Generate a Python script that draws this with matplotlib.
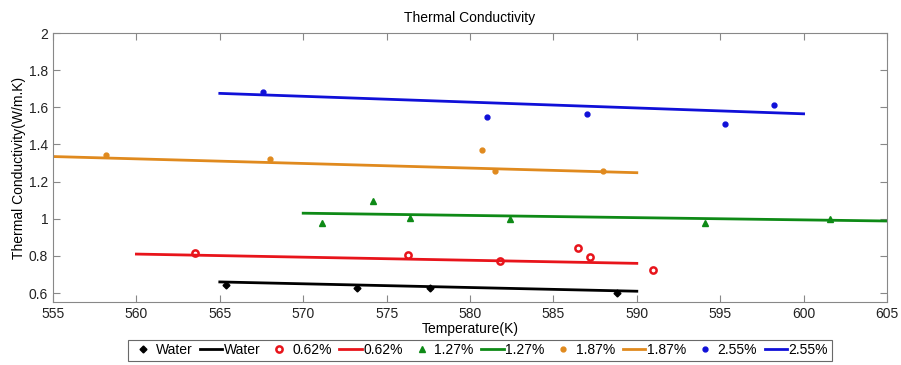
import matplotlib.pyplot as plt
import numpy as np

plt.rcParams['font.family'] = ['Liberation Sans', 'DejaVu Sans']

# ------------------------------------------------------------------
# data
# ------------------------------------------------------------------
water_T = [565.4, 573.2, 577.6, 588.8]
water_k = [0.645, 0.630, 0.630, 0.600]
water_fitT = [565, 590]
water_fitk = [0.660, 0.610]

c062_T = [563.5, 576.3, 581.8, 586.5, 587.2, 591.0]
c062_k = [0.815, 0.805, 0.775, 0.845, 0.795, 0.725]
c062_fitT = [560, 590]
c062_fitk = [0.810, 0.760]

c127_T = [571.1, 574.2, 576.4, 582.4, 594.1, 601.6]
c127_k = [0.975, 1.095, 1.005, 1.000, 0.975, 1.000]
c127_fitT = [570, 605]
c127_fitk = [1.030, 0.988]

c187_T = [558.2, 568.0, 580.7, 581.5, 588.0]
c187_k = [1.345, 1.320, 1.370, 1.255, 1.255]
c187_fitT = [555, 590]
c187_fitk = [1.335, 1.248]

c255_T = [567.6, 581.0, 587.0, 595.3, 598.2]
c255_k = [1.680, 1.550, 1.565, 1.510, 1.615]
c255_fitT = [565, 600]
c255_fitk = [1.675, 1.565]

labels = ['Water', '0.62%', '1.27%', '1.87%', '2.55%']
colors = ['black', '#e8141b', '#0e8a16', '#e08a1e', '#1010d8']

fig = plt.figure(figsize=(9.01, 3.65), dpi=100)
ax = fig.add_axes([53 / 901, 1 - 302 / 365, (887 - 53) / 901, (302 - 33) / 365])

ax.plot(water_T, water_k, 'D', ms=3.5, color=colors[0], label=labels[0])
ax.plot(water_fitT, water_fitk, '-', lw=2.0, color=colors[0], label=labels[0])
ax.plot(c062_T, c062_k, 'o', ms=4.5, mfc='white', mew=1.8, color=colors[1], label=labels[1])
ax.plot(c062_fitT, c062_fitk, '-', lw=2.0, color=colors[1], label=labels[1])
ax.plot(c127_T, c127_k, '^', ms=5, color=colors[2], label=labels[2])
ax.plot(c127_fitT, c127_fitk, '-', lw=2.0, color=colors[2], label=labels[2])
ax.plot(c187_T, c187_k, 'o', ms=3.5, color=colors[3], label=labels[3])
ax.plot(c187_fitT, c187_fitk, '-', lw=2.0, color=colors[3], label=labels[3])
ax.plot(c255_T, c255_k, 'o', ms=3.5, color=colors[4], label=labels[4])
ax.plot(c255_fitT, c255_fitk, '-', lw=2.0, color=colors[4], label=labels[4])

ax.set_xlim(555, 605)
ax.set_ylim(0.552, 2.0)
ax.set_xticks(np.arange(555, 606, 5))
ax.set_yticks([0.6, 0.8, 1.0, 1.2, 1.4, 1.6, 1.8, 2.0])
ax.set_yticklabels(['0.6', '0.8', '1', '1.2', '1.4', '1.6', '1.8', '2'])
ax.tick_params(direction='in', top=True, right=True, length=5, labelsize=10, colors='#888888', labelcolor='#222222')
for s in ax.spines.values():
    s.set_color('#888888')

ax.set_title('Thermal Conductivity', fontsize=10, pad=8)
ax.set_xlabel('Temperature(K)', fontsize=10, labelpad=1)
ax.set_ylabel('Thermal Conductivity(W/m.K)', fontsize=10, labelpad=2)

leg = ax.legend(loc='upper center', bbox_to_anchor=(0.512, -0.14), ncol=10, fontsize=10,
                frameon=True, fancybox=False, edgecolor='#444444', handlelength=1.6,
                handletextpad=0.12, columnspacing=0.55, borderpad=0.25, borderaxespad=0)
leg.get_frame().set_linewidth(0.8)

plt.savefig('out.png', dpi=100)
